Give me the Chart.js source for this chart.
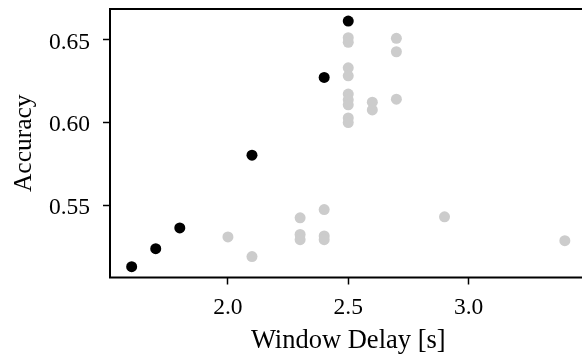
<!DOCTYPE html>
<html>
<head>
<meta charset="utf-8">
<script src="https://cdn.jsdelivr.net/npm/chart.js@4"></script>
<style>
  html, body { margin: 0; padding: 0; background: #fff; overflow: hidden; }
  #wrap { width: 582px; height: 356px; overflow: hidden; }
</style>
</head>
<body>
<div id="wrap"><canvas id="chart" width="592" height="356"></canvas></div>
<script>
// Highlighted (black) runs
const bestDelay = [1.6, 1.7, 1.8, 2.1, 2.4, 2.5];
const bestAcc = [0.5128, 0.5237, 0.5362, 0.5801, 0.627, 0.661];

// Other (grey) runs
const otherDelay = [2.0, 2.1, 2.3, 2.3, 2.3, 2.4, 2.4, 2.4,
  2.5, 2.5, 2.5, 2.5, 2.5, 2.5, 2.5, 2.5, 2.5,
  2.6, 2.6, 2.7, 2.7, 2.7, 2.9, 3.4];
const otherAcc = [0.5308, 0.5189, 0.5423, 0.5323, 0.5291, 0.5473, 0.5314, 0.5291,
  0.651, 0.6482, 0.6328, 0.628, 0.617, 0.6135, 0.6105, 0.6026, 0.5998,
  0.6121, 0.6074, 0.6506, 0.6425, 0.6139, 0.5429, 0.5285];

const xTicks = [2.0, 2.5, 3.0];
const yTicks = [0.55, 0.60, 0.65];

const toPoints = (xs, ys) => xs.map((x, i) => ({ x: x, y: ys[i] }));

const FONT = "'Liberation Serif', 'Times New Roman', serif";

// box around the plot area (right side falls outside the 582px window)
const framePlugin = {
  id: "frame",
  afterDraw(chart) {
    const { ctx, chartArea: a } = chart;
    ctx.save();
    ctx.strokeStyle = "#000";
    ctx.lineWidth = 2;
    ctx.strokeRect(a.left, a.top, a.right - a.left, a.bottom - a.top);
    ctx.restore();
  },
};

new Chart(document.getElementById("chart").getContext("2d"), {
  type: "scatter",
  data: {
    datasets: [
      {
        label: "best",
        data: toPoints(bestDelay, bestAcc),
        backgroundColor: "#000000",
        borderWidth: 0,
        pointRadius: 5.5,
        order: 0,
      },
      {
        label: "other",
        data: toPoints(otherDelay, otherAcc),
        backgroundColor: "#cccccc",
        borderWidth: 0,
        pointRadius: 5.5,
        order: 1,
      },
    ],
  },
  options: {
    responsive: false,
    animation: false,
    events: [],
    layout: { padding: { top: 9, right: 1, left: 0, bottom: 0 } },
    plugins: { legend: { display: false }, tooltip: { enabled: false } },
    scales: {
      x: {
        type: "linear",
        min: 1.51,
        max: 3.49,
        afterBuildTicks: (s) => { s.ticks = xTicks.map((v) => ({ value: v })); },
        afterFit: (s) => {
          s.height = 78.5;
          s.paddingLeft = 0;
          s.paddingRight = 0;
        },
        grid: { drawOnChartArea: false, drawTicks: true, tickLength: 7, tickWidth: 1.5, tickColor: "#000" },
        border: { display: false },
        ticks: {
          color: "#000",
          padding: 9,
          maxRotation: 0,
          font: { family: FONT, size: 23.5 },
          callback: (v) => Number(v).toFixed(1),
        },
        title: {
          display: true,
          text: "Window Delay [s]",
          color: "#000",
          font: { family: FONT, size: 26.5 },
          padding: { top: 0, bottom: -1 },
        },
      },
      y: {
        type: "linear",
        min: 0.5063,
        max: 0.6683,
        afterBuildTicks: (s) => { s.ticks = yTicks.map((v) => ({ value: v })); },
        afterFit: (s) => {
          s.width = 110;
          s.paddingTop = 0;
          s.paddingBottom = 0;
        },
        grid: { drawOnChartArea: false, drawTicks: true, tickLength: 7, tickWidth: 1.5, tickColor: "#000" },
        border: { display: false },
        ticks: {
          color: "#000",
          padding: 13,
          labelOffset: 3,
          font: { family: FONT, size: 23.5 },
          callback: (v) => Number(v).toFixed(2),
        },
        title: {
          display: true,
          text: "Accuracy",
          color: "#000",
          font: { family: FONT, size: 25.5 },
          padding: { top: 9, bottom: 0 },
        },
      },
    },
  },
  plugins: [framePlugin],
});
</script>
</body>
</html>
